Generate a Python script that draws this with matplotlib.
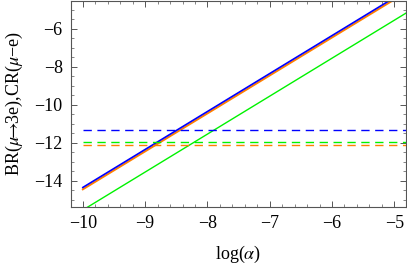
import numpy as np
from matplotlib import pyplot as plt
from matplotlib.ticker import MultipleLocator

plt.rcParams['font.family'] = ['Liberation Serif', 'DejaVu Serif']
plt.rcParams['mathtext.fontset'] = 'stix'

# log(alpha) sample points and values
log_alpha = [-10.0, -7.5, -4.8]
br_blue = [-14.35, -9.35, -3.95]
br_orange = [-14.45, -9.45, -4.05]
br_green = [-15.54, -10.54, -5.14]

# horizontal bounds (dashed)
bound_x = [-10.0, -4.8]
bound_blue = -11.33
bound_green = -11.98
bound_orange = -12.12

xticks = [-10, -9, -8, -7, -6, -5]
yticks = [-14, -12, -10, -8, -6]

fig = plt.figure(figsize=(4.07, 2.72), dpi=100)
ax = fig.add_axes([71/407, 65/272, 334.5/407, 206.5/272])

ax.plot(log_alpha, br_orange, color=(1, 0.5, 0), lw=1.4)
ax.plot(log_alpha, br_blue, color=(0, 0, 1), lw=1.2)
ax.plot(log_alpha, br_green, color=(0, 0.95, 0), lw=1.0)

dash = (0, (6, 4))
ax.plot(bound_x, [bound_blue] * 2, color=(0, 0, 1), lw=1.0, ls=dash)
ax.plot(bound_x, [bound_green] * 2, color=(0, 0.95, 0), lw=1.0, ls=dash)
ax.plot(bound_x, [bound_orange] * 2, color=(1, 0.5, 0), lw=1.0, ls=dash)

ax.set_xlim(-10.19, -4.82)
ax.set_ylim(-15.38, -4.5)
ax.set_xticks(xticks)
ax.set_yticks(yticks)
ax.set_xticklabels(['\u2212%d' % -t for t in xticks])
ax.set_yticklabels(['\u2212%d' % -t for t in yticks])
ax.xaxis.set_minor_locator(MultipleLocator(0.2))
ax.yaxis.set_minor_locator(MultipleLocator(0.5))
ax.tick_params(which='both', direction='in', top=True, right=True,
               labelsize=13, color='#555555')
ax.tick_params(which='major', length=4, width=0.7, pad=6)
ax.tick_params(which='minor', length=2, width=0.5)
for s in ax.spines.values():
    s.set_color('#555555')
    s.set_linewidth(0.8)

ax.set_xlabel(r'log($\alpha$)', fontsize=13, labelpad=8)
ax.set_ylabel(r'BR($\mu\!\!\rightarrow\!\!$3e),CR($\mu$\u2212e)'.replace('\\u2212', '\u2212'),
              fontsize=13, labelpad=7)

fig.savefig('out.png', dpi=100)
